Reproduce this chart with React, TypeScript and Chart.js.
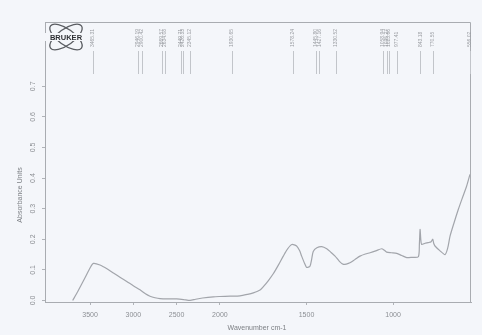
import React, { useEffect, useRef } from 'react';
import { Chart, registerables, LinearScale } from 'chart.js';

Chart.register(...registerables);

// ---- data ----
const wavenumbers = [
  3700, 3640, 3558, 3500, 3462, 3385, 3300, 3231, 3150, 3076, 3000, 2923, 2860, 2807, 2750, 2692,
  2600, 2499, 2420, 2345, 2280, 2200, 2076, 2000, 1940, 1884, 1840, 1807, 1768, 1749, 1720, 1691,
  1660, 1634, 1610, 1585, 1557, 1540, 1528, 1510, 1499, 1480, 1470, 1461, 1440, 1412, 1383, 1360,
  1335, 1310, 1287, 1270, 1249, 1220, 1191, 1160, 1133, 1100, 1066, 1050, 1037, 1010, 979, 950,
  921, 890, 854, 848, 844, 840, 835, 815, 797, 780, 771, 765, 758, 730, 700, 685, 671, 650, 623,
  600, 575, 556,
];
const absorbance = [
  0.0, 0.03, 0.074, 0.106, 0.121, 0.116, 0.103, 0.09, 0.075, 0.062, 0.048, 0.035, 0.022, 0.014, 0.009, 0.006,
  0.005, 0.005, 0.003, 0.0, 0.004, 0.008, 0.012, 0.013, 0.014, 0.015, 0.02, 0.025, 0.034, 0.045, 0.065, 0.088,
  0.118, 0.145, 0.168, 0.183, 0.178, 0.163, 0.145, 0.12, 0.108, 0.112, 0.135, 0.16, 0.172, 0.176, 0.169, 0.158,
  0.145, 0.128, 0.118, 0.119, 0.123, 0.134, 0.145, 0.152, 0.156, 0.162, 0.169, 0.164, 0.158, 0.156, 0.154, 0.147,
  0.14, 0.141, 0.143, 0.185, 0.232, 0.2, 0.183, 0.187, 0.189, 0.192, 0.2, 0.186, 0.178, 0.163, 0.15, 0.17,
  0.21, 0.25, 0.298, 0.335, 0.374, 0.412,
];
const xTickValues = [3500, 3000, 2500, 2000, 1500, 1000];
const yTickValues = [0, 0.1, 0.2, 0.3, 0.4, 0.5, 0.6, 0.7];
const yTickLabels = ['0.0', '0.1', '0.2', '0.3', '0.4', '0.5', '0.6', '0.7'];
const peakPositions = [3465, 2946, 2900, 2669, 2634, 2449, 2426, 2345, 1930, 1578, 1445, 1427, 1330, 1058, 1035, 1023, 977, 843, 770, 556];
const peakLabels = [
  '3465.31', '2946.19', '2900.42', '2669.57', '2634.08', '2449.71', '2426.33', '2345.12', '1930.65', '1578.24',
  '1445.80', '1427.16', '1330.52', '1058.94', '1035.27', '1023.66', '977.41', '843.18', '770.55', '556.02',
];
const xAxisTitle = 'Wavenumber cm-1';
const yAxisTitle = 'Absorbance Units';
const logoText = 'BRUKER';

// Bruker-style axis: 4000-2000 compressed, below 2000 expanded x2
const toU = (w: number) => (w >= 2000 ? 4000 - w : 2000 + 2 * (2000 - w));
const fromU = (u: number) => (u <= 2000 ? 4000 - u : 2000 - (u - 2000) / 2);

class IrScale extends LinearScale {
  static id = 'irwave';
  getPixelForValue(value: any) {
    if (value === null || value === undefined) return NaN;
    const u0 = toU((this as any).max);
    const u1 = toU((this as any).min);
    return this.getPixelForDecimal((toU(value) - u0) / (u1 - u0));
  }
  getValueForPixel(pixel: number) {
    const d = this.getDecimalForPixel(pixel);
    const u0 = toU((this as any).max);
    const u1 = toU((this as any).min);
    return fromU(u0 + d * (u1 - u0));
  }
}
Chart.register(IrScale as any);

const FONT = '"Liberation Sans", Arial, sans-serif';

const decorPlugin = {
  id: 'decor',
  beforeDraw(chart: any) {
    const ctx = chart.ctx;
    ctx.save();
    ctx.fillStyle = '#f4f6fa';
    ctx.fillRect(0, 0, chart.width, chart.height);
    ctx.restore();
  },
  afterDraw(chart: any) {
    const ctx = chart.ctx;
    const { left, right, top, bottom } = chart.chartArea;
    const xs = chart.scales.x;
    const ys = chart.scales.y;
    ctx.save();
    // frame
    ctx.strokeStyle = '#a9acb1';
    ctx.lineWidth = 1;
    ctx.beginPath();
    ctx.moveTo(left + 0.5, bottom);
    ctx.lineTo(left + 0.5, top + 0.5);
    ctx.lineTo(right - 0.5, top + 0.5);
    ctx.lineTo(right - 0.5, bottom);
    ctx.stroke();

    // y tick labels (rotated)
    ctx.fillStyle = '#8c8f94';
    ctx.font = `7px ${FONT}`;
    ctx.textAlign = 'center';
    ctx.textBaseline = 'middle';
    yTickValues.forEach((v, i) => {
      const y = ys.getPixelForValue(v);
      ctx.save();
      ctx.translate(33, y);
      ctx.rotate(-Math.PI / 2);
      ctx.fillText(yTickLabels[i], 0, 0);
      ctx.restore();
    });

    // axis titles
    ctx.fillStyle = '#7d8085';
    ctx.font = `7px ${FONT}`;
    ctx.save();
    ctx.translate(20, 195);
    ctx.rotate(-Math.PI / 2);
    ctx.fillText(yAxisTitle, 0, 0);
    ctx.restore();
    ctx.fillText(xAxisTitle, 257, 328);

    // peak labels
    ctx.fillStyle = '#9a9da2';
    ctx.strokeStyle = '#c2c5ca';
    ctx.font = `5px ${FONT}`;
    ctx.textAlign = 'left';
    peakPositions.forEach((p, i) => {
      const x = xs.getPixelForValue(p);
      ctx.save();
      ctx.translate(x, 47);
      ctx.rotate(-Math.PI / 2);
      ctx.fillText(peakLabels[i], 0, 0);
      ctx.restore();
      ctx.beginPath();
      ctx.moveTo(Math.round(x) + 0.5, 51);
      ctx.lineTo(Math.round(x) + 0.5, 74);
      ctx.stroke();
    });

    // logo
    const cx = 66;
    const cy = 37;
    ctx.strokeStyle = '#5a5d62';
    ctx.lineWidth = 1.3;
    [0.62, -0.62].forEach((a) => {
      ctx.beginPath();
      ctx.ellipse(cx, cy, 19, 8, a, 0, Math.PI * 2);
      ctx.stroke();
    });
    ctx.fillStyle = '#f4f6fa';
    ctx.fillRect(cx - 21, cy - 4, 42, 8);
    ctx.fillStyle = '#2d2f33';
    ctx.font = `bold 7.5px ${FONT}`;
    ctx.textAlign = 'center';
    ctx.textBaseline = 'middle';
    ctx.fillText(logoText, cx, cy + 0.5);
    ctx.restore();
  },
};

export default function App() {
  const ref = useRef<HTMLCanvasElement | null>(null);
  useEffect(() => {
    if (!ref.current) return;
    const chart = new Chart(ref.current, {
      type: 'line',
      data: {
        datasets: [
          {
            data: wavenumbers.map((w, i) => ({ x: w, y: absorbance[i] })),
            borderColor: '#a2a5ab',
            borderWidth: 1.2,
            pointRadius: 0,
            tension: 0.25,
            fill: false,
          },
        ],
      },
      options: {
        animation: false,
        responsive: true,
        maintainAspectRatio: false,
        layout: { padding: { top: 22, right: 11, left: 0, bottom: 0 } },
        plugins: { legend: { display: false }, tooltip: { enabled: false }, title: { display: false } },
        scales: {
          x: {
            type: 'irwave' as any,
            min: 550,
            max: 4020,
            afterBuildTicks: (s: any) => {
              s.ticks = xTickValues.map((v) => ({ value: v }));
            },
            afterFit: (s: any) => {
              s.height = 33;
            },
            ticks: {
              autoSkip: false,
              maxRotation: 0,
              minRotation: 0,
              padding: 6,
              color: '#8c8f94',
              font: { size: 7, family: FONT },
              callback: (v: any) => String(v),
            },
            grid: { drawOnChartArea: false, tickLength: 3, color: '#b0b3b8' },
            border: { color: '#a9acb1' },
          } as any,
          y: {
            type: 'linear',
            min: -0.005,
            max: 0.91,
            afterBuildTicks: (s: any) => {
              s.ticks = yTickValues.map((v) => ({ value: v }));
            },
            afterFit: (s: any) => {
              s.width = 45;
            },
            ticks: { display: false },
            grid: { drawOnChartArea: false, tickLength: 3, color: '#b0b3b8' },
            border: { color: '#a9acb1' },
          },
        },
      },
      plugins: [decorPlugin],
    });
    return () => chart.destroy();
  }, []);
  return (
    <div style={{ position: 'fixed', left: 0, top: 0, width: 482, height: 335 }}>
      <canvas ref={ref} />
    </div>
  );
}
